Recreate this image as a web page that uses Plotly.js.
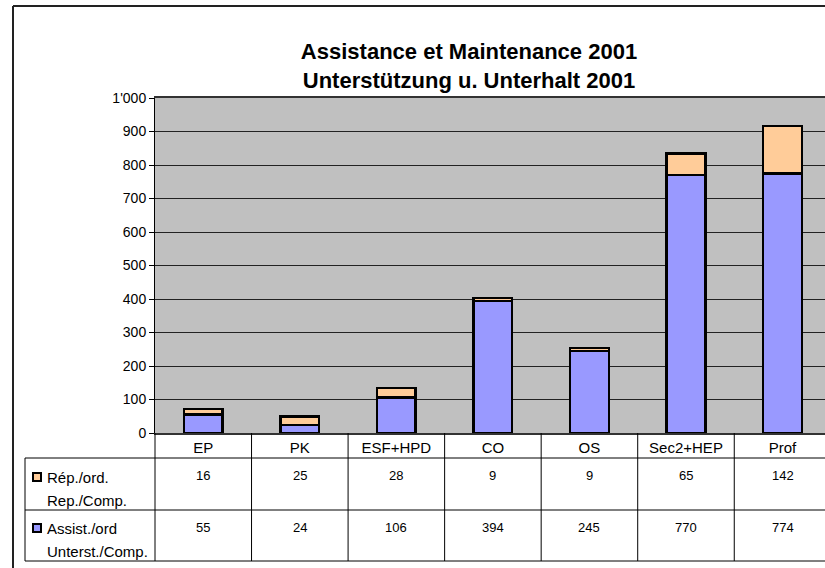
<!DOCTYPE html>
<html>
<head>
<meta charset="utf-8">
<script src="https://cdn.plot.ly/plotly-3.0.1.min.js"></script>
<style>
html,body{margin:0;padding:0;background:#fff;overflow:hidden;}
#chart{width:825px;height:568px;}
</style>
</head>
<body>
<div id="chart"></div>
<script>
// ---- data ----
var categories = ["EP", "PK", "ESF+HPD", "CO", "OS", "Sec2+HEP", "Prof"];
var repValues = [16, 25, 28, 9, 9, 65, 142];
var assistValues = [55, 24, 106, 394, 245, 770, 774];
var repLabel = ["Rép./ord.", "Rep./Comp."];
var assistLabel = ["Assist./ord", "Unterst./Comp."];
var titleText = "Assistance et Maintenance 2001<br>Unterstützung u. Unterhalt 2001";

// ---- geometry helpers ----
var W = 825, H = 568;
var mL = 155, mR = 0, mT = 98, mB = 135;
var plotW = W - mL - mR, plotH = H - mT - mB;
var xRange = [-0.5, 6.44];
function px(x) { return (x - mL) / plotW; }
function py(y) { return (H - mB - y) / plotH; }
function catPaper(v) { return (v - xRange[0]) / (xRange[1] - xRange[0]); }

var FONT = "Liberation Sans, Arial, sans-serif";
var repColor = "#ffcc99", assistColor = "#9999ff";

var traces = [
  {type: "bar", name: "Assist./ord Unterst./Comp.", x: categories, y: assistValues,
   marker: {color: assistColor, line: {color: "#000", width: 2.5}}, width: 0.4},
  {type: "bar", name: "Rép./ord. Rep./Comp.", x: categories, y: repValues,
   marker: {color: repColor, line: {color: "#000", width: 2.5}}, width: 0.4}
];

var shapes = [];
function line(x0, y0, x1, y1, w, c) {
  shapes.push({type: "line", xref: "paper", yref: "paper",
    x0: px(x0), y0: py(y0), x1: px(x1), y1: py(y1),
    line: {color: c || "#000", width: w || 1}});
}
// outer frame
line(13, 6, 13, 568, 2, "#222");
line(13, 6, 825, 6, 2, "#222");
// table grid
var rowTop = 458, rowMid = 510, rowBot = 561, hdrTop = 433;
line(25, rowTop, 825, rowTop, 1);
line(25, rowMid, 825, rowMid, 1);
line(25, rowBot, 825, rowBot, 1);
line(25, rowTop, 25, rowBot, 1);
shapes.push({type: "line", xref: "paper", yref: "paper", x0: 0, x1: 0,
  y0: py(hdrTop), y1: py(rowBot), line: {color: "#000", width: 1}});
for (var i = 0; i < categories.length - 1; i++) {
  var xp = catPaper(i + 0.5);
  shapes.push({type: "line", xref: "paper", yref: "paper", x0: xp, x1: xp,
    y0: py(hdrTop), y1: py(rowBot), line: {color: "#000", width: 1}});
}
// legend keys
function key(yc, col) {
  shapes.push({type: "rect", xref: "paper", yref: "paper",
    x0: px(33), x1: px(41), y0: py(yc - 4), y1: py(yc + 4),
    fillcolor: col, line: {color: "#000", width: 2}});
}
key(477, repColor);
key(528, assistColor);

var annotations = [];
function txt(x, xref, y, s, size, anchor) {
  annotations.push({xref: xref, yref: "paper", x: x, y: py(y), text: s,
    showarrow: false, xanchor: anchor || "center", yanchor: "middle",
    font: {family: FONT, size: size, color: "#000"}});
}
txt(px(45), "paper", 477, repLabel[0], 15, "left");
txt(px(45), "paper", 500, repLabel[1], 15, "left");
txt(px(45), "paper", 528, assistLabel[0], 15, "left");
txt(px(45), "paper", 551, assistLabel[1], 15, "left");
for (var j = 0; j < categories.length; j++) {
  txt(categories[j], "x", 475, String(repValues[j]), 13);
  txt(categories[j], "x", 527, String(assistValues[j]), 13);
}

var layout = {
  width: W, height: H,
  margin: {l: mL, r: mR, t: mT, b: mB, pad: 0},
  paper_bgcolor: "#fff",
  plot_bgcolor: "#c0c0c0",
  barmode: "stack",
  showlegend: false,
  separators: ".'",
  font: {family: FONT, color: "#000"},
  title: {text: titleText, font: {family: FONT, size: 22, color: "#000", weight: "bold"},
    xref: "container", x: 469 / W, xanchor: "center",
    yref: "container", y: 1 - 59 / H, yanchor: "middle"},
  xaxis: {type: "category", range: xRange, showgrid: false, zeroline: false,
    showline: true, mirror: true, linecolor: "#333", linewidth: 2,
    ticks: "", tickfont: {family: FONT, size: 15, color: "#000"}, fixedrange: true},
  yaxis: {range: [0, 1000], dtick: 100, tick0: 0, tickformat: ",d",
    showgrid: true, gridcolor: "#222", gridwidth: 1, zeroline: false,
    showline: true, linecolor: "#000", linewidth: 1,
    ticks: "outside", ticklen: 5, tickcolor: "#000",
    tickfont: {family: FONT, size: 14, color: "#000"}, fixedrange: true},
  shapes: shapes,
  annotations: annotations
};

Plotly.newPlot("chart", traces, layout, {displayModeBar: false, staticPlot: true});
</script>
</body>
</html>
